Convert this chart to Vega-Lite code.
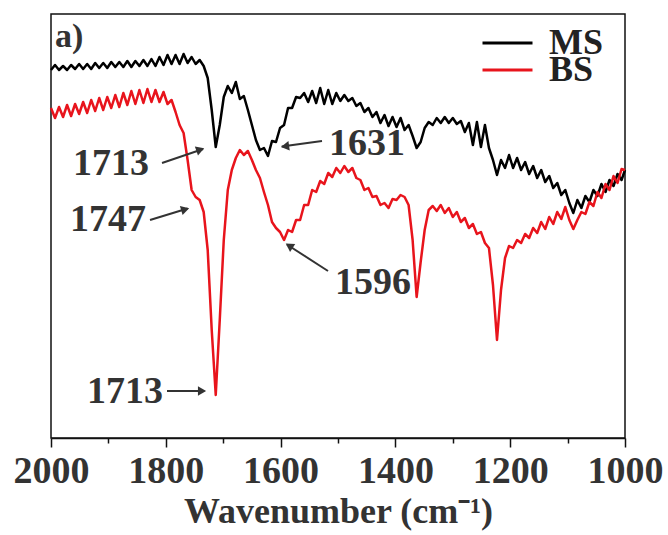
{
  "$schema": "https://vega.github.io/schema/vega-lite/v6.json",
  "width": 574,
  "height": 424,
  "autosize": "none",
  "padding": {"left": 51, "top": 14, "right": 43, "bottom": 97},
  "background": "white",
  "config": {
    "view": {"stroke": "#111111", "strokeWidth": 1.5},
    "font": "Liberation Serif",
    "legend": {
      "title": null, "orient": "none",
      "symbolType": "M-2,0H2", "symbolSize": 625, "symbolStrokeWidth": 3,
      "symbolFillColor": "transparent",
      "labelFont": "Liberation Serif", "labelFontWeight": "bold", "labelFontSize": 36,
      "labelColor": "#222222", "labelOffset": 23.5, "padding": 0
    }
  },
  "resolve": {"scale": {"color": "independent"}, "legend": {"color": "independent"}},
  "datasets": {
    "spectra": [
      {"s":"MS","w":2000,"t":368},{"s":"MS","w":1993,"t":373},{"s":"MS","w":1986,"t":368},{"s":"MS","w":1979,"t":372},{"s":"MS","w":1972,"t":368},{"s":"MS","w":1965,"t":373},{"s":"MS","w":1958,"t":369},{"s":"MS","w":1951,"t":374},{"s":"MS","w":1944,"t":369},{"s":"MS","w":1937,"t":374},
      {"s":"MS","w":1930,"t":369},{"s":"MS","w":1923,"t":375},{"s":"MS","w":1916,"t":370},{"s":"MS","w":1909,"t":375},{"s":"MS","w":1902,"t":370},{"s":"MS","w":1895,"t":376},{"s":"MS","w":1888,"t":371},{"s":"MS","w":1881,"t":376},{"s":"MS","w":1874,"t":371},{"s":"MS","w":1867,"t":377},
      {"s":"MS","w":1860,"t":371},{"s":"MS","w":1853,"t":377},{"s":"MS","w":1846,"t":372},{"s":"MS","w":1839,"t":378},{"s":"MS","w":1832,"t":372},{"s":"MS","w":1825,"t":379},{"s":"MS","w":1818,"t":372},{"s":"MS","w":1811,"t":381},{"s":"MS","w":1804,"t":373},{"s":"MS","w":1797,"t":383},
      {"s":"MS","w":1790,"t":374},{"s":"MS","w":1783,"t":383},{"s":"MS","w":1776,"t":374},{"s":"MS","w":1769,"t":384},{"s":"MS","w":1762,"t":375},{"s":"MS","w":1755,"t":381},{"s":"MS","w":1748,"t":374},{"s":"MS","w":1741,"t":378},{"s":"MS","w":1734,"t":372},{"s":"MS","w":1727,"t":360},
      {"s":"MS","w":1720,"t":328},{"s":"MS","w":1713,"t":291},{"s":"MS","w":1706,"t":313},{"s":"MS","w":1699,"t":341},{"s":"MS","w":1692,"t":352},{"s":"MS","w":1685,"t":345},{"s":"MS","w":1678,"t":356},{"s":"MS","w":1671,"t":339},{"s":"MS","w":1664,"t":342},{"s":"MS","w":1657,"t":328},
      {"s":"MS","w":1650,"t":313},{"s":"MS","w":1643,"t":298},{"s":"MS","w":1636,"t":288},{"s":"MS","w":1629,"t":290},{"s":"MS","w":1622,"t":282},{"s":"MS","w":1615,"t":297},{"s":"MS","w":1608,"t":296},{"s":"MS","w":1601,"t":310},{"s":"MS","w":1594,"t":313},{"s":"MS","w":1587,"t":330},
      {"s":"MS","w":1580,"t":330},{"s":"MS","w":1573,"t":341},{"s":"MS","w":1566,"t":340},{"s":"MS","w":1559,"t":345},{"s":"MS","w":1552,"t":336},{"s":"MS","w":1545,"t":347},{"s":"MS","w":1538,"t":335},{"s":"MS","w":1531,"t":350},{"s":"MS","w":1524,"t":334},{"s":"MS","w":1517,"t":348},
      {"s":"MS","w":1510,"t":334},{"s":"MS","w":1503,"t":345},{"s":"MS","w":1496,"t":337},{"s":"MS","w":1489,"t":343},{"s":"MS","w":1482,"t":337},{"s":"MS","w":1475,"t":340},{"s":"MS","w":1468,"t":332},{"s":"MS","w":1461,"t":335},{"s":"MS","w":1454,"t":326},{"s":"MS","w":1447,"t":330},
      {"s":"MS","w":1440,"t":321},{"s":"MS","w":1433,"t":326},{"s":"MS","w":1426,"t":315},{"s":"MS","w":1419,"t":323},{"s":"MS","w":1412,"t":312},{"s":"MS","w":1405,"t":321},{"s":"MS","w":1398,"t":311},{"s":"MS","w":1391,"t":320},{"s":"MS","w":1384,"t":308},{"s":"MS","w":1377,"t":313},
      {"s":"MS","w":1370,"t":302},{"s":"MS","w":1363,"t":290},{"s":"MS","w":1356,"t":296},{"s":"MS","w":1349,"t":310},{"s":"MS","w":1342,"t":316},{"s":"MS","w":1335,"t":313},{"s":"MS","w":1328,"t":320},{"s":"MS","w":1321,"t":315},{"s":"MS","w":1314,"t":321},{"s":"MS","w":1307,"t":315},
      {"s":"MS","w":1300,"t":320},{"s":"MS","w":1293,"t":314},{"s":"MS","w":1286,"t":317},{"s":"MS","w":1279,"t":306},{"s":"MS","w":1272,"t":315},{"s":"MS","w":1265,"t":293},{"s":"MS","w":1258,"t":316},{"s":"MS","w":1251,"t":291},{"s":"MS","w":1244,"t":313},{"s":"MS","w":1237,"t":290},
      {"s":"MS","w":1230,"t":278},{"s":"MS","w":1223,"t":263},{"s":"MS","w":1216,"t":278},{"s":"MS","w":1209,"t":270},{"s":"MS","w":1202,"t":283},{"s":"MS","w":1195,"t":270},{"s":"MS","w":1188,"t":280},{"s":"MS","w":1181,"t":268},{"s":"MS","w":1174,"t":276},{"s":"MS","w":1167,"t":264},
      {"s":"MS","w":1160,"t":272},{"s":"MS","w":1153,"t":260},{"s":"MS","w":1146,"t":268},{"s":"MS","w":1139,"t":256},{"s":"MS","w":1132,"t":262},{"s":"MS","w":1125,"t":250},{"s":"MS","w":1118,"t":255},{"s":"MS","w":1111,"t":243},{"s":"MS","w":1104,"t":248},{"s":"MS","w":1097,"t":235},
      {"s":"MS","w":1090,"t":225},{"s":"MS","w":1083,"t":238},{"s":"MS","w":1076,"t":230},{"s":"MS","w":1069,"t":242},{"s":"MS","w":1062,"t":236},{"s":"MS","w":1055,"t":248},{"s":"MS","w":1048,"t":242},{"s":"MS","w":1041,"t":254},{"s":"MS","w":1034,"t":246},{"s":"MS","w":1027,"t":258},
      {"s":"MS","w":1020,"t":252},{"s":"MS","w":1013,"t":264},{"s":"MS","w":1006,"t":258},{"s":"MS","w":1000,"t":268},
      {"s":"BS","w":2000,"t":330},{"s":"BS","w":1993,"t":320},{"s":"BS","w":1986,"t":331},{"s":"BS","w":1979,"t":321},{"s":"BS","w":1972,"t":333},{"s":"BS","w":1965,"t":322},{"s":"BS","w":1958,"t":334},{"s":"BS","w":1951,"t":324},{"s":"BS","w":1944,"t":336},{"s":"BS","w":1937,"t":325},
      {"s":"BS","w":1930,"t":338},{"s":"BS","w":1923,"t":327},{"s":"BS","w":1916,"t":340},{"s":"BS","w":1909,"t":328},{"s":"BS","w":1902,"t":341},{"s":"BS","w":1895,"t":330},{"s":"BS","w":1888,"t":343},{"s":"BS","w":1881,"t":331},{"s":"BS","w":1874,"t":345},{"s":"BS","w":1867,"t":333},
      {"s":"BS","w":1860,"t":347},{"s":"BS","w":1853,"t":334},{"s":"BS","w":1846,"t":348},{"s":"BS","w":1839,"t":335},{"s":"BS","w":1832,"t":349},{"s":"BS","w":1825,"t":336},{"s":"BS","w":1818,"t":348},{"s":"BS","w":1811,"t":336},{"s":"BS","w":1804,"t":346},{"s":"BS","w":1797,"t":334},
      {"s":"BS","w":1790,"t":338},{"s":"BS","w":1783,"t":326},{"s":"BS","w":1776,"t":313},{"s":"BS","w":1769,"t":305},{"s":"BS","w":1762,"t":278},{"s":"BS","w":1755,"t":248},{"s":"BS","w":1748,"t":241},{"s":"BS","w":1741,"t":238},{"s":"BS","w":1734,"t":226},{"s":"BS","w":1727,"t":188},
      {"s":"BS","w":1720,"t":108},{"s":"BS","w":1713,"t":43},{"s":"BS","w":1706,"t":118},{"s":"BS","w":1699,"t":198},{"s":"BS","w":1692,"t":248},{"s":"BS","w":1685,"t":268},{"s":"BS","w":1678,"t":280},{"s":"BS","w":1671,"t":288},{"s":"BS","w":1664,"t":283},{"s":"BS","w":1657,"t":287},
      {"s":"BS","w":1650,"t":278},{"s":"BS","w":1643,"t":268},{"s":"BS","w":1636,"t":260},{"s":"BS","w":1629,"t":246},{"s":"BS","w":1622,"t":233},{"s":"BS","w":1615,"t":216},{"s":"BS","w":1608,"t":210},{"s":"BS","w":1601,"t":206},{"s":"BS","w":1594,"t":198},{"s":"BS","w":1587,"t":208},
      {"s":"BS","w":1580,"t":206},{"s":"BS","w":1573,"t":218},{"s":"BS","w":1566,"t":218},{"s":"BS","w":1559,"t":233},{"s":"BS","w":1552,"t":233},{"s":"BS","w":1545,"t":248},{"s":"BS","w":1538,"t":246},{"s":"BS","w":1531,"t":257},{"s":"BS","w":1524,"t":254},{"s":"BS","w":1517,"t":265},
      {"s":"BS","w":1510,"t":261},{"s":"BS","w":1503,"t":270},{"s":"BS","w":1496,"t":265},{"s":"BS","w":1489,"t":272},{"s":"BS","w":1482,"t":266},{"s":"BS","w":1475,"t":270},{"s":"BS","w":1468,"t":260},{"s":"BS","w":1461,"t":258},{"s":"BS","w":1454,"t":248},{"s":"BS","w":1447,"t":250},
      {"s":"BS","w":1440,"t":241},{"s":"BS","w":1433,"t":242},{"s":"BS","w":1426,"t":233},{"s":"BS","w":1419,"t":235},{"s":"BS","w":1412,"t":230},{"s":"BS","w":1405,"t":239},{"s":"BS","w":1398,"t":238},{"s":"BS","w":1391,"t":243},{"s":"BS","w":1384,"t":241},{"s":"BS","w":1377,"t":233},
      {"s":"BS","w":1370,"t":198},{"s":"BS","w":1363,"t":141},{"s":"BS","w":1356,"t":176},{"s":"BS","w":1349,"t":208},{"s":"BS","w":1342,"t":228},{"s":"BS","w":1335,"t":232},{"s":"BS","w":1328,"t":227},{"s":"BS","w":1321,"t":233},{"s":"BS","w":1314,"t":225},{"s":"BS","w":1307,"t":230},
      {"s":"BS","w":1300,"t":221},{"s":"BS","w":1293,"t":226},{"s":"BS","w":1286,"t":216},{"s":"BS","w":1279,"t":220},{"s":"BS","w":1272,"t":210},{"s":"BS","w":1265,"t":214},{"s":"BS","w":1258,"t":204},{"s":"BS","w":1251,"t":206},{"s":"BS","w":1244,"t":195},{"s":"BS","w":1237,"t":190},
      {"s":"BS","w":1230,"t":153},{"s":"BS","w":1223,"t":98},{"s":"BS","w":1216,"t":148},{"s":"BS","w":1209,"t":180},{"s":"BS","w":1202,"t":192},{"s":"BS","w":1195,"t":190},{"s":"BS","w":1188,"t":198},{"s":"BS","w":1181,"t":195},{"s":"BS","w":1174,"t":204},{"s":"BS","w":1167,"t":200},
      {"s":"BS","w":1160,"t":210},{"s":"BS","w":1153,"t":205},{"s":"BS","w":1146,"t":216},{"s":"BS","w":1139,"t":209},{"s":"BS","w":1132,"t":221},{"s":"BS","w":1125,"t":214},{"s":"BS","w":1118,"t":226},{"s":"BS","w":1111,"t":219},{"s":"BS","w":1104,"t":231},{"s":"BS","w":1097,"t":218},
      {"s":"BS","w":1090,"t":209},{"s":"BS","w":1083,"t":218},{"s":"BS","w":1076,"t":226},{"s":"BS","w":1069,"t":224},{"s":"BS","w":1062,"t":236},{"s":"BS","w":1055,"t":232},{"s":"BS","w":1048,"t":246},{"s":"BS","w":1041,"t":240},{"s":"BS","w":1034,"t":254},{"s":"BS","w":1027,"t":248},
      {"s":"BS","w":1020,"t":262},{"s":"BS","w":1013,"t":255},{"s":"BS","w":1006,"t":269},{"s":"BS","w":1000,"t":268}
    ],
    "labels": [
      {"label":"1713","w":1895.5,"t":274},
      {"label":"1631","w":1449.5,"t":294},
      {"label":"1747","w":1900.7,"t":218},
      {"label":"1596","w":1439,"t":155},
      {"label":"1713","w":1871,"t":46}
    ],
    "arrows": [
      {"w":1806.6,"t":275,"w2":1735,"t2":289,"hw":1739.9,"ht":288.4,"ang":340.8},
      {"w":1527.9,"t":297,"w2":1598,"t2":291.5,"hw":1592.3,"ht":291.7,"ang":171.9},
      {"w":1827.5,"t":218,"w2":1762,"t2":229.5,"hw":1766.2,"ht":228.6,"ang":343.3},
      {"w":1517.4,"t":167,"w2":1589,"t2":193.5,"hw":1585.0,"ht":192.3,"ang":213.1},
      {"w":1797.9,"t":47,"w2":1733,"t2":47,"hw":1736.9,"ht":47,"ang":0}
    ],
    "panel": [{"label":"a)","w":1993,"t":401}]
  },
  "layer": [
    {
      "data": {"name": "spectra"},
      "transform": [{"filter": "datum.s === 'MS'"}],
      "mark": {"type": "line", "strokeWidth": 2.5, "strokeJoin": "round"},
      "encoding": {
        "x": {"field": "w", "type": "quantitative",
              "scale": {"domain": [1000, 2000], "reverse": true, "nice": false, "zero": false},
              "axis": {
                "values": [2000,1900,1800,1700,1600,1500,1400,1300,1200,1100,1000],
                "labelExpr": "datum.value % 200 === 0 ? format(datum.value, 'd') : ''",
                "grid": false,
                "domainColor": "#111111", "domainWidth": 1.5,
                "tickColor": "#111111", "tickWidth": 1.5,
                "tickSize": {"condition": {"test": "datum.value % 200 === 0", "value": 9}, "value": 5},
                "labelFont": "Liberation Serif", "labelFontWeight": "bold", "labelFontSize": 38,
                "labelColor": "#333333", "labelPadding": 5, "labelFlush": false, "labelOverlap": false,
                "title": "Wavenumber (cm\u207B\u00B9)",
                "titleFont": "Liberation Serif", "titleFontWeight": "bold", "titleFontSize": 36,
                "titleColor": "#333333", "titlePadding": 4
              }},
        "y": {"field": "t", "type": "quantitative", "scale": {"domain": [0, 424], "nice": false, "zero": false}, "axis": null},
        "color": {"field": "s", "type": "nominal",
                  "scale": {"domain": ["MS"], "range": ["#000000"]},
                  "legend": {"legendX": 438.5, "legendY": 11}}
      }
    },
    {
      "data": {"name": "spectra"},
      "transform": [{"filter": "datum.s === 'BS'"}],
      "mark": {"type": "line", "strokeWidth": 2.5, "strokeJoin": "round"},
      "encoding": {
        "x": {"field": "w", "type": "quantitative"},
        "y": {"field": "t", "type": "quantitative"},
        "color": {"field": "s", "type": "nominal",
                  "scale": {"domain": ["BS"], "range": ["#e8141c"]},
                  "legend": {"legendX": 438.5, "legendY": 38}}
      }
    },
    {
      "data": {"name": "arrows"},
      "mark": {"type": "rule", "color": "#333333", "strokeWidth": 2},
      "encoding": {
        "x": {"field": "w", "type": "quantitative"},
        "y": {"field": "t", "type": "quantitative"},
        "x2": {"field": "w2"},
        "y2": {"field": "t2"}
      }
    },
    {
      "data": {"name": "arrows"},
      "mark": {"type": "point", "shape": "triangle-right", "filled": true, "color": "#333333", "size": 90, "opacity": 1},
      "encoding": {
        "x": {"field": "hw", "type": "quantitative"},
        "y": {"field": "ht", "type": "quantitative"},
        "angle": {"field": "ang", "type": "quantitative", "scale": null}
      }
    },
    {
      "data": {"name": "labels"},
      "mark": {"type": "text", "font": "Liberation Serif", "fontWeight": "bold", "fontSize": 38, "color": "#333333", "align": "center", "baseline": "middle"},
      "encoding": {
        "x": {"field": "w", "type": "quantitative"},
        "y": {"field": "t", "type": "quantitative"},
        "text": {"field": "label"}
      }
    },
    {
      "data": {"name": "panel"},
      "mark": {"type": "text", "font": "Liberation Serif", "fontWeight": "bold", "fontSize": 34, "color": "#333333", "align": "left", "baseline": "middle"},
      "encoding": {
        "x": {"field": "w", "type": "quantitative"},
        "y": {"field": "t", "type": "quantitative"},
        "text": {"field": "label"}
      }
    }
  ]
}
